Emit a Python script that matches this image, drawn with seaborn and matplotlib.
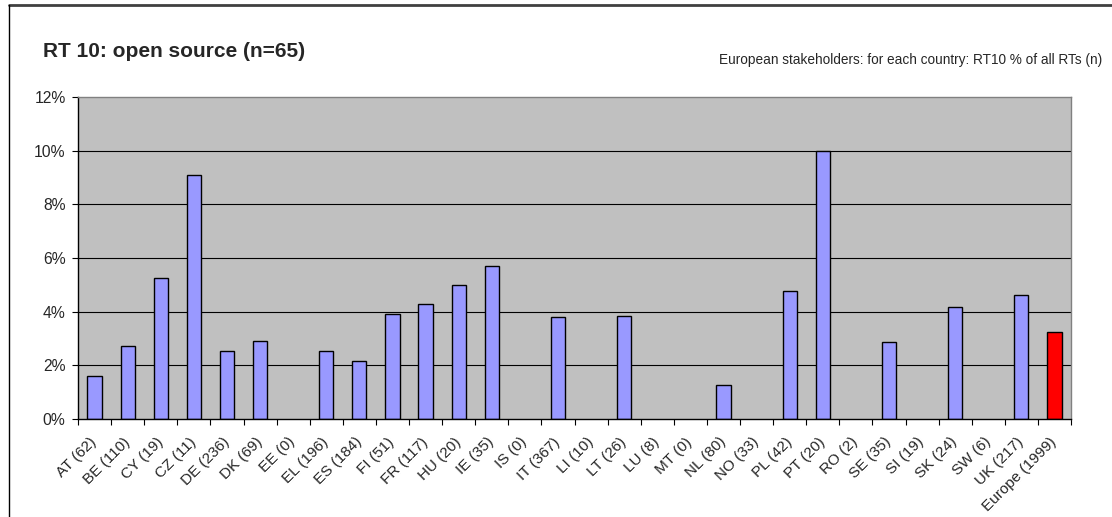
import matplotlib
matplotlib.use("Agg")
import matplotlib.pyplot as plt
from matplotlib.lines import Line2D
from matplotlib.ticker import PercentFormatter, FixedLocator
import seaborn as sns
import pandas as pd

# Share of RT10 (open source) among all RTs per country, in percent
countries = ["AT", "BE", "CY", "CZ", "DE", "DK", "EE", "EL", "ES", "FI",
             "FR", "HU", "IE", "IS", "IT", "LI", "LT", "LU", "MT", "NL",
             "NO", "PL", "PT", "RO", "SE", "SI", "SK", "SW", "UK", "Europe"]
n_all_rts = [62, 110, 19, 11, 236, 69, 0, 196, 184, 51,
             117, 20, 35, 0, 367, 10, 26, 8, 0, 80,
             33, 42, 20, 2, 35, 19, 24, 6, 217, 1999]
rt10_share = [1.61, 2.73, 5.26, 9.09, 2.54, 2.90, 0.0, 2.55, 2.17, 3.92,
              4.27, 5.00, 5.71, 0.0, 3.81, 0.0, 3.85, 0.0, 0.0, 1.25,
              0.0, 4.76, 10.0, 0.0, 2.86, 0.0, 4.17, 0.0, 4.61, 3.25]
y_ticks = [0, 2, 4, 6, 8, 10, 12]

labels = [f"{c} ({n})" for c, n in zip(countries, n_all_rts)]
df = pd.DataFrame({"label": labels, "share": rt10_share})
bar_colors = ["#FF0000" if c == "Europe" else "#9999FF" for c in countries]

sns.set_style("white")
plt.rcParams["font.family"] = ["Liberation Sans", "DejaVu Sans"]

W, H = 1112, 517
fig = plt.figure(figsize=(W / 100, H / 100), dpi=100)
ax = fig.add_axes([78 / W, 1 - 419 / H, (1071 - 78) / W, (419 - 97) / H])

sns.barplot(data=df, x="label", y="share", hue="label", palette=bar_colors,
            legend=False, width=0.43, edgecolor="black", linewidth=1.0,
            saturation=1, ax=ax)

# empty categories get no visible bar outline
for patch in ax.patches:
    if patch.get_height() == 0:
        patch.set_visible(False)

ax.set_facecolor("#C0C0C0")
ax.set_xlim(-0.5, len(countries) - 0.5)
ax.set_ylim(0, 12)
ax.set_xlabel("")
ax.set_ylabel("")

# horizontal gridlines
for v in y_ticks[1:-1]:
    ax.axhline(v, color="black", linewidth=0.8, zorder=0.5)
ax.set_axisbelow(True)

# y axis
ax.yaxis.set_major_locator(FixedLocator(y_ticks))
ax.yaxis.set_major_formatter(PercentFormatter(xmax=100, decimals=0))
ax.tick_params(axis="y", direction="out", length=4, width=0.8,
               color="black", labelsize=11.3, pad=5, left=True)

# x axis: labels at bar centres, tick marks between categories
ax.set_xticks(range(len(labels)))
ax.set_xticklabels(labels, rotation=45, ha="right", va="center",
                   rotation_mode="anchor", fontsize=11)
ax.set_xticks([i - 0.5 for i in range(len(labels) + 1)], minor=True)
ax.tick_params(axis="x", which="major", length=0, pad=15)
ax.tick_params(axis="x", which="minor", direction="out", length=4,
               width=0.8, color="black", bottom=True)

for side in ("top", "right"):
    ax.spines[side].set_color("#808080")
    ax.spines[side].set_linewidth(1.0)
for side in ("left", "bottom"):
    ax.spines[side].set_color("black")
    ax.spines[side].set_linewidth(1.0)

fig.text(43 / W, 1 - 57 / H, "RT 10: open source (n=65)", fontsize=15,
         fontweight="bold", ha="left", va="baseline")
fig.text(1102 / W, 1 - 64 / H,
         "European stakeholders: for each country: RT10 % of all RTs (n)",
         fontsize=9.8, ha="right", va="baseline")

# chart frame
fig.add_artist(Line2D([9 / W, 1], [1 - 5 / H, 1 - 5 / H],
                      color="#404040", linewidth=2.0))
fig.add_artist(Line2D([9 / W, 9 / W], [0, 1 - 5 / H],
                      color="black", linewidth=1.0))

fig.savefig("out.png", dpi=100)
